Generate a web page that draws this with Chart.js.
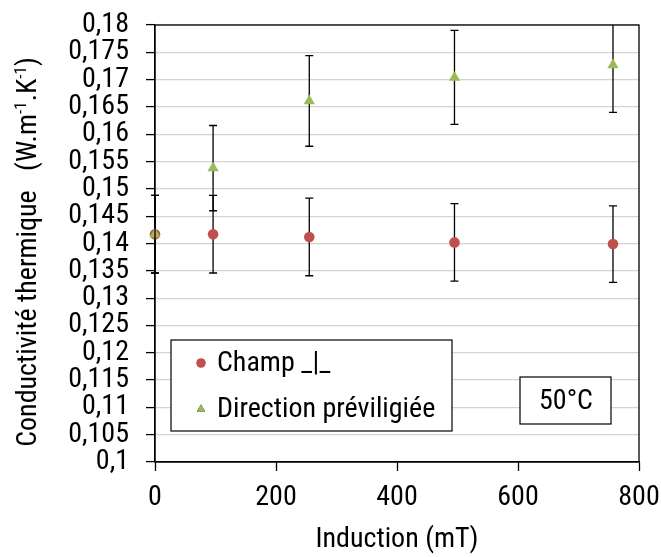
<!DOCTYPE html>
<html>
<head>
<meta charset="utf-8">
<script src="https://cdn.jsdelivr.net/npm/chart.js@4.4.1/dist/chart.umd.min.js"></script>
<style>
  body { margin: 0; background: #fff; }
</style>
</head>
<body>
<canvas id="chart" width="661" height="557"></canvas>
<script>
// induction (mT) and thermal conductivity (W.m-1.K-1) at 50°C
const inductions = [0, 96, 255, 495, 757];
const champPerp = [0.1417, 0.1417, 0.1412, 0.1402, 0.1399];
const champPerpErr = [0.0071, 0.0071, 0.0071, 0.0071, 0.0070];
const direction = [0.1417, 0.1538, 0.1661, 0.1704, 0.1727];
const directionErr = [0.0071, 0.0078, 0.0083, 0.0086, 0.0087];
const seriesNames = ['Champ _|_', 'Direction préviligiée'];
const tempLabel = '50°C';

const FONT = "'Roboto Condensed', 'Liberation Sans', Arial, sans-serif";

const toPoints = (ys) => inductions.map((x, i) => ({ x: x, y: ys[i] }));

// keep the plot area where layout.padding puts it
const noAutoPadding = (s) => {
  s.paddingTop = 0; s.paddingBottom = 0; s.paddingLeft = 0; s.paddingRight = 0;
};

// vertical error bars, drawn under the markers
const errorBars = {
  id: 'errorBars',
  beforeDatasetsDraw(chart) {
    const { ctx, chartArea, scales: { x, y } } = chart;
    ctx.save();
    ctx.beginPath();
    ctx.rect(chartArea.left - 10, chartArea.top, chartArea.right - chartArea.left + 20, chartArea.bottom - chartArea.top);
    ctx.clip();
    ctx.strokeStyle = '#000';
    ctx.lineWidth = 1.3;
    chart.data.datasets.forEach(ds => {
      ds.data.forEach((p, i) => {
        const px = x.getPixelForValue(p.x);
        const top = y.getPixelForValue(p.y + ds.errors[i]);
        const bot = y.getPixelForValue(p.y - ds.errors[i]);
        ctx.beginPath();
        ctx.moveTo(px, top); ctx.lineTo(px, bot);
        ctx.moveTo(px - 4, top); ctx.lineTo(px + 4, top);
        ctx.moveTo(px - 4, bot); ctx.lineTo(px + 4, bot);
        ctx.stroke();
      });
    });
    ctx.restore();
  }
};

// frame, y title with superscripts, legend box and temperature box
const decorations = {
  id: 'decorations',
  afterDraw(chart) {
    const { ctx, chartArea: a } = chart;
    ctx.save();
    ctx.strokeStyle = '#000';
    ctx.lineWidth = 1.3;
    ctx.strokeRect(a.left, a.top, a.right - a.left, a.bottom - a.top);

    // y axis title
    const parts = [
      ['Conductivité thermique   (W.m', 28, 0],
      ['-1', 17, -10],
      ['.K', 28, 0],
      ['-1', 17, -10],
      [')', 28, 0]
    ];
    ctx.translate(25, 252);
    ctx.rotate(-Math.PI / 2);
    ctx.fillStyle = '#000';
    ctx.textBaseline = 'alphabetic';
    let total = 0;
    parts.forEach(([t, s]) => { ctx.font = s + 'px ' + FONT; total += ctx.measureText(t).width; });
    let xx = -total / 2;
    parts.forEach(([t, s, dy]) => {
      ctx.font = s + 'px ' + FONT;
      ctx.fillText(t, xx, 11 + dy);
      xx += ctx.measureText(t).width;
    });
    ctx.restore();

    // legend
    ctx.save();
    ctx.fillStyle = '#fff';
    ctx.strokeStyle = '#000';
    ctx.lineWidth = 1.2;
    ctx.fillRect(171, 340, 281, 91);
    ctx.strokeRect(171, 340, 281, 91);
    const rows = [363, 409];
    chart.data.datasets.forEach((ds, i) => {
      Chart.helpers.drawPoint(ctx, {
        pointStyle: ds.pointStyle, radius: 4.8, borderWidth: 0
      }, 201, rows[i]);
      ctx.fillStyle = ds.backgroundColor;
      ctx.fill();
      ctx.fillStyle = '#000';
      ctx.font = '28px ' + FONT;
      ctx.textBaseline = 'middle';
      ctx.textAlign = 'left';
      ctx.fillText(ds.label, 217, rows[i] + 1);
    });

    // temperature box
    ctx.fillStyle = '#fff';
    ctx.fillRect(520, 377, 91, 47);
    ctx.strokeRect(520, 377, 91, 47);
    ctx.fillStyle = '#000';
    ctx.textAlign = 'center';
    ctx.fillText(tempLabel, 566, 402);
    ctx.restore();
  }
};

new Chart(document.getElementById('chart'), {
  type: 'scatter',
  data: {
    datasets: [
      {
        label: seriesNames[0],
        data: toPoints(champPerp),
        errors: champPerpErr,
        pointStyle: 'circle',
        pointRadius: 5.3,
        backgroundColor: '#c0504d',
        borderColor: '#c0504d',
        borderWidth: 0,
        clip: false,
        order: 1
      },
      {
        label: seriesNames[1],
        data: toPoints(direction),
        errors: directionErr,
        pointStyle: 'triangle',
        pointRadius: 6.5,
        backgroundColor: '#9bbb59',
        borderColor: '#9bbb59',
        borderWidth: 0,
        clip: false,
        order: 0
      }
    ]
  },
  options: {
    responsive: false,
    animation: false,
    layout: { padding: { top: 25, right: 22, left: 0, bottom: 0 } },
    plugins: {
      legend: { display: false },
      tooltip: { enabled: false }
    },
    scales: {
      x: {
        type: 'linear',
        min: 0,
        max: 800,
        afterFit: (s) => { s.height = 95; noAutoPadding(s); },
        ticks: { stepSize: 200, color: '#000', padding: 10, font: { family: FONT, size: 28 } },
        grid: { drawOnChartArea: false, tickLength: 9, tickColor: '#000', tickWidth: 1.3 },
        border: { color: '#000', width: 1.3 },
        title: { display: true, text: 'Induction (mT)', color: '#000', padding: 0, font: { family: FONT, size: 28 } }
      },
      y: {
        min: 0.1,
        max: 0.18,
        afterFit: (s) => { s.width = 155; noAutoPadding(s); },
        ticks: {
          stepSize: 0.005,
          autoSkip: false,
          color: '#000',
          padding: 17,
          font: { family: FONT, size: 28 },
          callback: (v) => v.toFixed(3).replace(/0+$/, '').replace('.', ',')
        },
        grid: { color: '#d4d4d4', lineWidth: 1.2, tickLength: 9, tickColor: '#000', tickWidth: 1.3 },
        border: { color: '#000', width: 1.3 }
      }
    }
  },
  plugins: [errorBars, decorations]
});
</script>
</body>
</html>
